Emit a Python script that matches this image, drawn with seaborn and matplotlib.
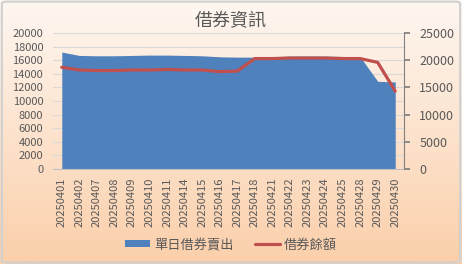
import numpy as np
import pandas as pd
import matplotlib
matplotlib.use("Agg")
import matplotlib.pyplot as plt
import seaborn as sns
from matplotlib.patches import Patch, FancyBboxPatch
from matplotlib.lines import Line2D
from matplotlib.colors import LinearSegmentedColormap

dates = ["20250401", "20250402", "20250407", "20250408", "20250409", "20250410",
         "20250411", "20250414", "20250415", "20250416", "20250417", "20250418",
         "20250421", "20250422", "20250423", "20250424", "20250425", "20250428",
         "20250429", "20250430"]
daily_short = [17200, 16700, 16650, 16650, 16700, 16750, 16750, 16700, 16650, 16500,
               16450, 16450, 16500, 16600, 16600, 16600, 16550, 16500, 12900, 12800]
balance = [18700, 18200, 18100, 18100, 18200, 18200, 18300, 18200, 18200, 17900,
           18000, 20300, 20300, 20400, 20400, 20400, 20300, 20300, 19600, 14300]
left_ticks = list(range(0, 20001, 2000))
right_ticks = list(range(0, 25001, 5000))
title = "借券資訊"
series_names = ["單日借券賣出", "借券餘額"]

sns.set_theme(style="white")
plt.rcParams["font.family"] = ["Noto Sans CJK TC", "DejaVu Sans"]

df = pd.DataFrame({"date": dates, "daily": daily_short, "balance": balance})
df["idx"] = np.arange(len(df))

blue = "#4F81BD"
red = "#C0504D"
txt = "#595959"

fig = plt.figure(figsize=(4.62, 2.64), dpi=100)
fig.patch.set_facecolor("white")

# gradient background
bg = fig.add_axes([0, 0, 1, 1], zorder=-10)
cmap = LinearSegmentedColormap.from_list("peach", ["#FEF7F1", "#FBCFAA"])
grad = np.linspace(0, 1, 256).reshape(-1, 1)
bg.imshow(grad, aspect="auto", cmap=cmap, extent=[0, 1, 0, 1], origin="upper")
bg.add_patch(FancyBboxPatch((0.004, 0.006), 0.992, 0.988,
                            boxstyle="round,pad=0,rounding_size=0.01",
                            transform=bg.transAxes, fill=False,
                            edgecolor="#D0D0D0", linewidth=1.5))
bg.set_xlim(0, 1); bg.set_ylim(0, 1)
bg.axis("off")

ax = fig.add_axes([53/462, 1-169/264, (404-53)/462, (169-33)/264])
ax.patch.set_alpha(0)
ax.fill_between(df["idx"], df["daily"], color=blue, linewidth=0, zorder=2)
ax.set_xlim(-0.5, len(dates) - 0.5)
ax.set_ylim(0, 20000)
ax.set_yticks(left_ticks)
ax.set_yticklabels([str(v) for v in left_ticks], fontsize=8, color=txt)
ax.yaxis.grid(True, color="#D9D9D9", linewidth=0.8, zorder=0)
ax.set_axisbelow(True)
ax.set_xticks(np.arange(len(dates)))
ax.set_xticklabels(dates, rotation=90, fontsize=8, color=txt)
ax.set_xticks(np.arange(len(dates) + 1) - 0.5, minor=True)
ax.tick_params(axis="x", which="major", length=0, pad=6)
ax.tick_params(axis="x", which="minor", length=3, color="#BFBFBF", direction="out")
ax.tick_params(axis="y", length=0, pad=7)
for s in ["top", "right", "left"]:
    ax.spines[s].set_visible(False)
ax.spines["bottom"].set_color("#BFBFBF")
ax.spines["bottom"].set_linewidth(0.8)
ax.set_xlabel(""); ax.set_ylabel("")

ax2 = ax.twinx()
sns.lineplot(data=df, x="idx", y="balance", ax=ax2, color=red, linewidth=2.3, zorder=3)
ax2.set_ylim(0, 25000)
ax2.set_yticks(right_ticks)
ax2.set_yticklabels([str(v) for v in right_ticks], fontsize=9, color=txt)
ax2.tick_params(axis="y", length=4, color="#808080", pad=7, direction="out")
for s in ["top", "left", "bottom"]:
    ax2.spines[s].set_visible(False)
ax2.spines["right"].set_color("#808080")
ax2.spines["right"].set_linewidth(0.8)
ax2.set_xlabel(""); ax2.set_ylabel("")
ax2.set_xlim(-0.5, len(dates) - 0.5)

fig.text(0.5, 0.918, title, ha="center", va="center", fontsize=13, color=txt)

handles = [Patch(facecolor=blue, edgecolor="none"),
           Line2D([0], [0], color=red, linewidth=2.3)]
fig.legend(handles, series_names, loc="center", bbox_to_anchor=(0.5, 0.072),
           ncol=2, frameon=False, fontsize=9.5, handlelength=1.9, handleheight=0.45,
           columnspacing=1.6, handletextpad=0.3, labelcolor=txt)

fig.savefig("out.png", dpi=100)
